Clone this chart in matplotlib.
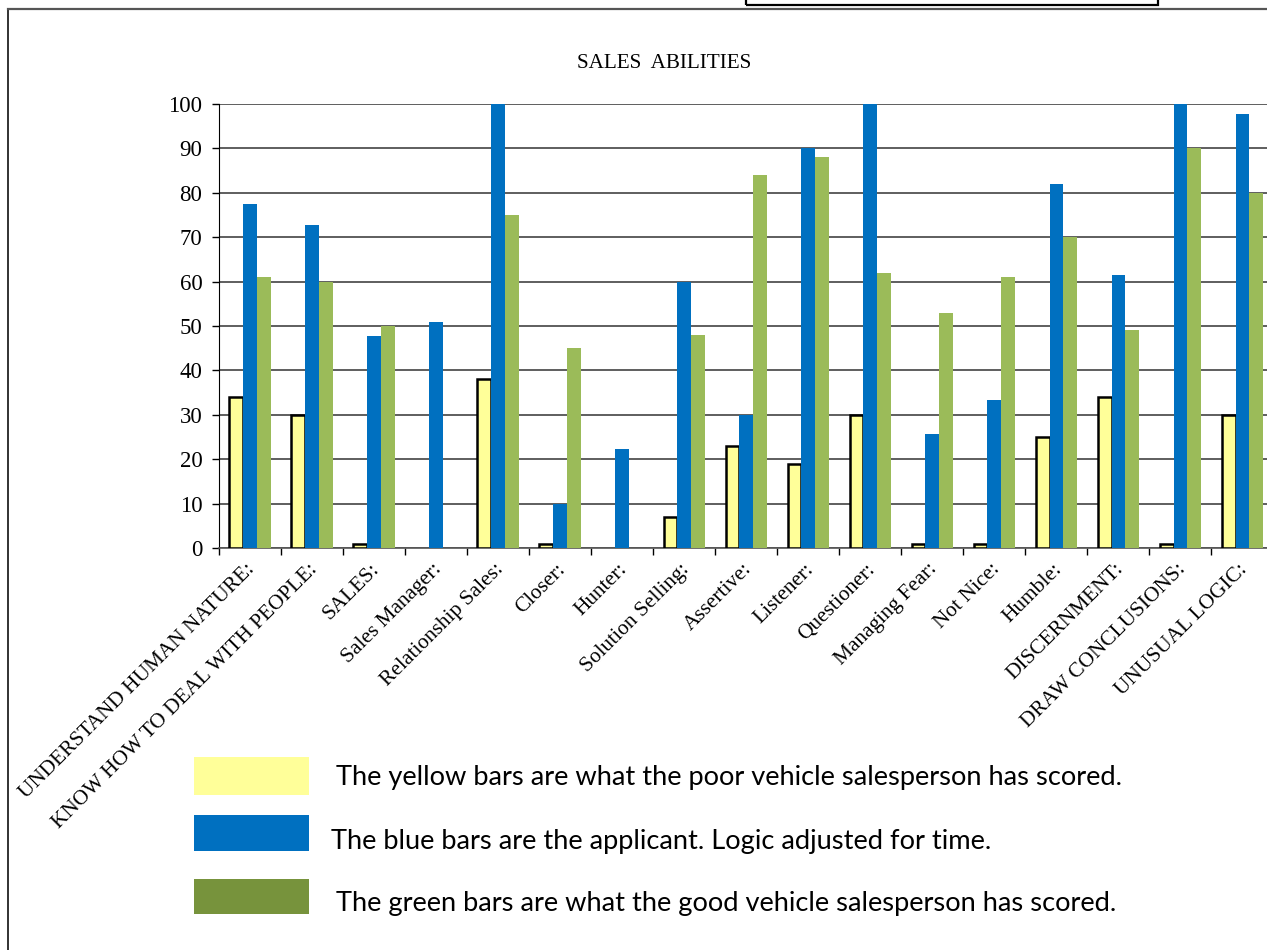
import matplotlib.pyplot as plt
import matplotlib.patches as mpatches
import numpy as np

categories = [
    "UNDERSTAND HUMAN NATURE:", "KNOW HOW TO DEAL WITH PEOPLE:", "SALES:",
    "Sales Manager:", "Relationship Sales:", "Closer:", "Hunter:",
    "Solution Selling:", "Assertive:", "Listener:", "Questioner:",
    "Managing Fear:", "Not Nice:", "Humble:", "DISCERNMENT:",
    "DRAW CONCLUSIONS:", "UNUSUAL LOGIC:",
]
poor = [34, 30, 1, 0, 38, 1, 0, 7, 23, 19, 30, 1, 1, 25, 34, 1, 30]
applicant = [77.5, 72.7, 47.7, 51, 100, 10, 22.2, 60, 30, 90, 100,
             25.6, 33.3, 82, 61.4, 100, 97.7]
good = [61, 60, 50, 0, 75, 45, 0, 48, 84, 88, 62, 53, 61, 70, 49, 90, 80]
y_ticks = [0, 10, 20, 30, 40, 50, 60, 70, 80, 90, 100]

legend_text = [
    "The yellow bars are what the poor vehicle salesperson has scored.",
    "The blue bars are the applicant. Logic adjusted for time.",
    "The green bars are what the good vehicle salesperson has scored.",
]

YELLOW = "#FFFF99"
BLUE = "#0070C0"
GREEN = "#9BBB59"
GREEN_KEY = "#77933C"

W, H = 1267, 950
fig = plt.figure(figsize=(W / 100, H / 100), dpi=100)

# plot area runs a little past the right edge of the page
ax = fig.add_axes([219 / W, 1 - 548 / H, 1054.5 / W, 444 / H])

x = np.arange(len(categories))
bw = 1 / 4.5
# no outline on empty yellow bars
edge_w = [1.8 if v > 0 else 0 for v in poor]
ax.bar(x - bw, poor, bw, color=YELLOW, edgecolor="black", linewidth=edge_w, zorder=3)
ax.bar(x, applicant, bw, color=BLUE, zorder=3)
ax.bar(x + bw, good, bw, color=GREEN, zorder=3)

ax.set_xlim(-0.5, len(categories) - 0.5)
ax.set_ylim(0, 100)
ax.set_yticks(y_ticks)
ax.yaxis.grid(True, color="#333333", linewidth=1.1, zorder=0)
ax.set_axisbelow(True)

ax.set_xticks(np.arange(len(categories) + 1) - 0.5)
ax.set_xticklabels([])
for i, name in enumerate(categories):
    ax.text(i + 0.04, -4.2, name, rotation=45, ha="right", va="center",
            rotation_mode="anchor", family="Liberation Serif", fontsize=15.4)

ax.tick_params(axis="y", length=5, width=1, pad=7, labelsize=16.5)
ax.tick_params(axis="x", length=5, width=1)
for lbl in ax.get_yticklabels():
    lbl.set_family("Liberation Serif")

for side in ["top", "right"]:
    ax.spines[side].set_visible(False)
ax.spines["left"].set_color("black")
ax.spines["bottom"].set_color("#555555")
ax.spines["bottom"].set_linewidth(1.2)

fig.text(664 / W, 1 - 63 / H, "SALES  ABILITIES", ha="center", va="center",
         family="Liberation Serif", fontsize=15.2)

# outer frame of the chart block
fig.add_artist(plt.Line2D([8 / W, 8 / W], [0, 1 - 9 / H], color="#222222",
                          linewidth=1.3, transform=fig.transFigure))
fig.add_artist(plt.Line2D([8 / W, 1], [1 - 9 / H, 1 - 9 / H], color="#555555",
                          linewidth=1.6, transform=fig.transFigure))
# bottom of the text box above the chart
fig.add_artist(mpatches.Rectangle((746 / W, 1 - 5 / H), 412 / W, 10 / H,
                                  fill=False, edgecolor="black", linewidth=1.6,
                                  transform=fig.transFigure))

# colour key underneath the plot
keys = [
    (YELLOW, 757, 795, 336, 777),
    (BLUE, 815, 851, 331, 842),
    (GREEN_KEY, 879, 914, 336, 903),
]
for (col, y0, y1, tx, ty), txt in zip(keys, legend_text):
    fig.add_artist(mpatches.Rectangle((194 / W, 1 - y1 / H), 115 / W, (y1 - y0) / H,
                                      facecolor=col, edgecolor="none",
                                      transform=fig.transFigure))
    fig.text(tx / W, 1 - ty / H, txt, ha="left", va="center", family="Lato",
             fontsize=19.6, color="black")

fig.savefig("out.png", dpi=100)
